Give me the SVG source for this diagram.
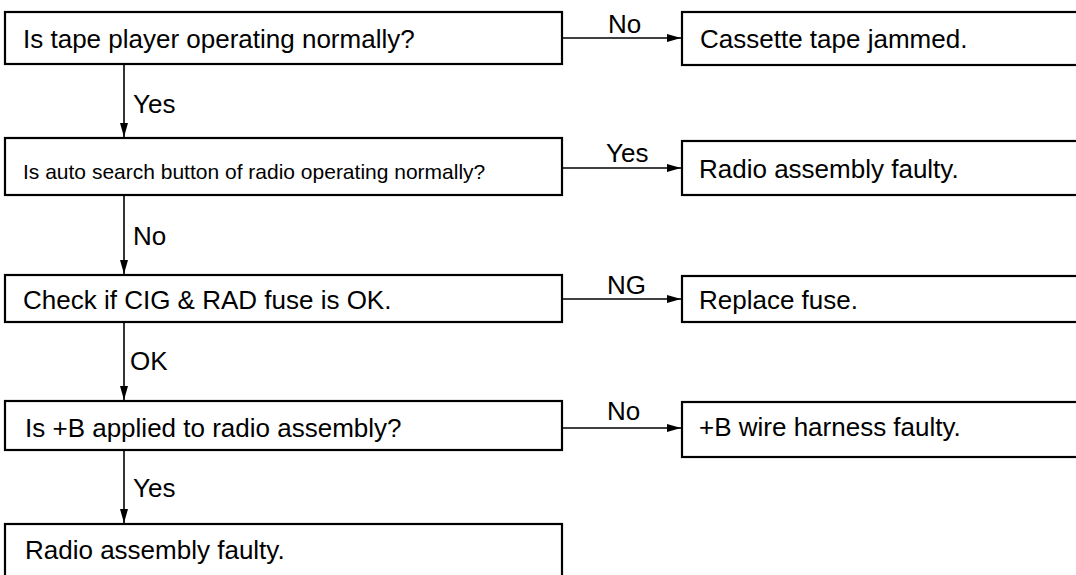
<svg xmlns="http://www.w3.org/2000/svg" width="1076" height="575" viewBox="0 0 1076 575">
<defs>
<marker id="ah" markerWidth="14" markerHeight="8" refX="14" refY="4" orient="auto" markerUnits="userSpaceOnUse">
<path d="M0,0 L14,4 L0,8 z" fill="#000"/>
</marker>
<style>
.box{fill:#fff;stroke:#000;stroke-width:2.2}
.t{font-family:"Liberation Sans",Arial,Helvetica,sans-serif;font-size:26px;fill:#000}
.ts{font-family:"Liberation Sans",Arial,Helvetica,sans-serif;font-size:21px;fill:#000}
.c{stroke:#000;stroke-width:1.6;fill:none;marker-end:url(#ah)}
</style>
</defs>
<rect width="1076" height="575" fill="#fff"/>
<g id="q1"><rect class="box" x="5" y="12" width="557" height="52"/><text class="t" x="23" y="48">Is tape player operating normally?</text></g>
<g id="r1"><rect class="box" x="682" y="12" width="400" height="53"/><text class="t" x="700" y="48">Cassette tape jammed.</text></g>
<g id="q2"><rect class="box" x="5" y="138" width="557" height="57"/><text class="ts" x="23" y="179">Is auto search button of radio operating normally?</text></g>
<g id="r2"><rect class="box" x="682" y="141" width="400" height="54"/><text class="t" x="699" y="178">Radio assembly faulty.</text></g>
<g id="q3"><rect class="box" x="5" y="275" width="557" height="47"/><text class="t" x="23" y="309">Check if CIG &amp; RAD fuse is OK.</text></g>
<g id="r3"><rect class="box" x="682" y="276" width="400" height="46"/><text class="t" x="699" y="309">Replace fuse.</text></g>
<g id="q4"><rect class="box" x="5" y="401" width="557" height="49"/><text class="t" x="25" y="437">Is +B applied to radio assembly?</text></g>
<g id="r4"><rect class="box" x="682" y="402" width="400" height="55"/><text class="t" x="699" y="436">+B wire harness faulty.</text></g>
<g id="r5"><rect class="box" x="5" y="524" width="557" height="70"/><text class="t" x="25" y="559">Radio assembly faulty.</text></g>
<g id="connectors">
<line class="c" x1="562" y1="38" x2="681" y2="38"/>
<text class="t" x="608" y="33">No</text>
<line class="c" x1="562" y1="168" x2="681" y2="168"/>
<text class="t" x="606" y="162">Yes</text>
<line class="c" x1="562" y1="299" x2="681" y2="299"/>
<text class="t" x="607" y="294">NG</text>
<line class="c" x1="562" y1="428" x2="681" y2="428"/>
<text class="t" x="607" y="420">No</text>
<line class="c" x1="124" y1="64" x2="124" y2="137"/>
<text class="t" x="133" y="113">Yes</text>
<line class="c" x1="124" y1="195" x2="124" y2="274"/>
<text class="t" x="133" y="245">No</text>
<line class="c" x1="124" y1="322" x2="124" y2="400"/>
<text class="t" x="130" y="370">OK</text>
<line class="c" x1="124" y1="450" x2="124" y2="523"/>
<text class="t" x="133" y="497">Yes</text>
</g>
</svg>
